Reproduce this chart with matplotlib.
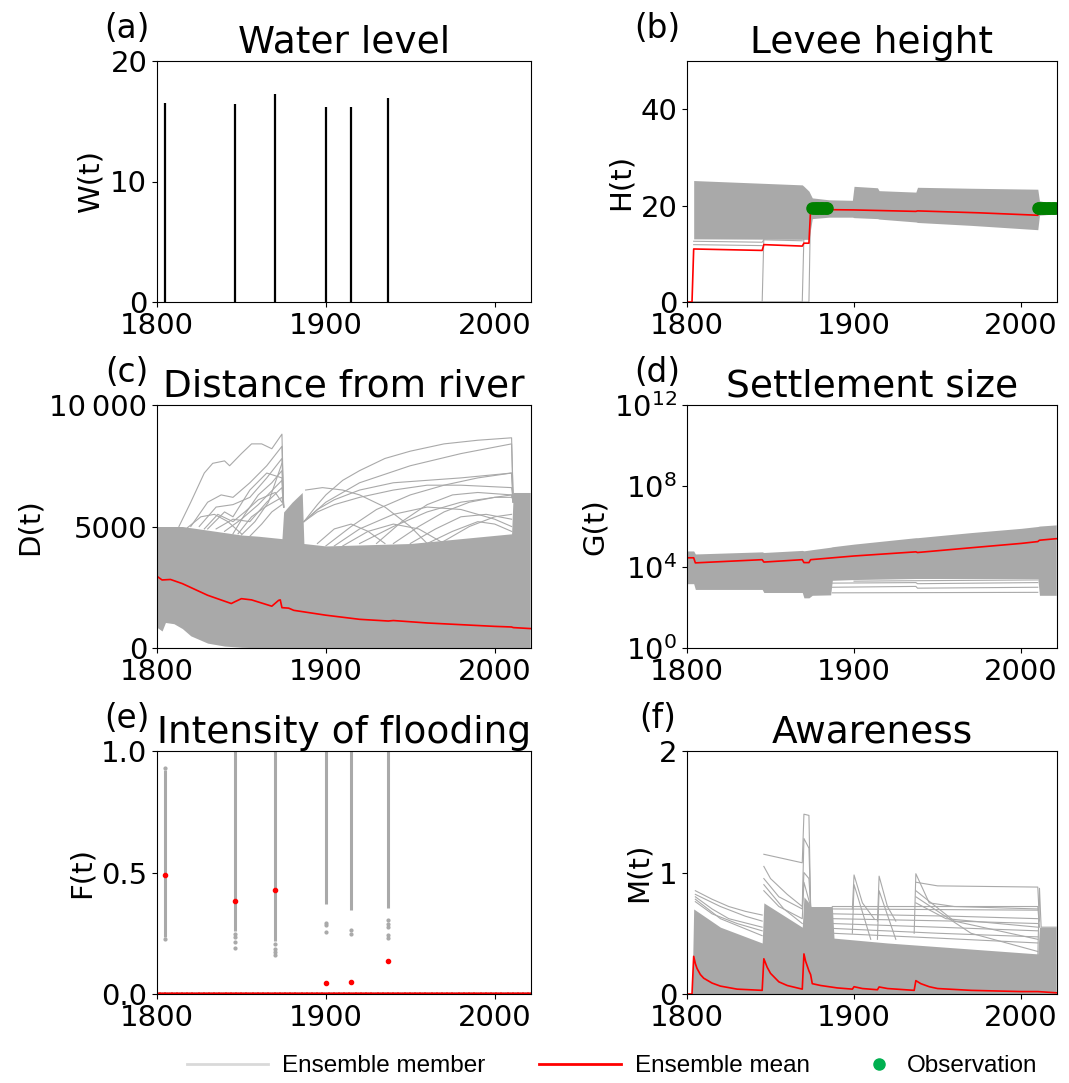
import numpy as np
import matplotlib.pyplot as plt
from matplotlib.lines import Line2D

# ---------------- data ----------------
years_all = np.arange(1800, 2022)

# (a) water level peaks
flood_years = [1805, 1846, 1870, 1900, 1915, 1937]
water_level = [16.5, 16.4, 17.3, 16.2, 16.2, 16.9]

# (b) levee height
levee_band_years = [1804, 1869, 1870, 1873, 1875, 1885, 1899, 1900, 1914, 1915, 1937, 1938, 1970, 2010, 2011, 2021]
levee_band_hi = [25.2, 24.3, 24.0, 23.0, 21.6, 21.2, 21.1, 24.0, 23.7, 23.1, 22.8, 23.8, 23.6, 23.4, 21.0, 20.3]
levee_band_lo = [13.1, 13.0, 13.0, 13.0, 17.3, 17.6, 17.6, 17.5, 17.3, 17.2, 16.6, 16.5, 15.9, 15.0, 18.0, 18.3]
levee_members = [
    ([1800, 1845, 1846, 1869, 1870, 1875], [0, 0, 13.4, 13.2, 22.0, 21.0]),
    ([1800, 1869, 1870, 1873, 1874, 1880], [0, 0, 13.8, 13.7, 20.5, 20.2]),
    ([1800, 1873, 1874, 1885], [0, 0, 20.0, 19.8]),
    ([1804, 1845, 1846, 1869], [12.6, 12.4, 12.9, 12.7]),
    ([1804, 1845], [11.9, 11.7]),
]
levee_mean_years = [1800, 1803, 1804, 1845, 1846, 1869, 1870, 1873, 1874, 1900, 1937, 1938, 1975, 2010, 2011, 2021]
levee_mean = [0, 0, 11.0, 10.7, 11.9, 11.6, 12.2, 12.2, 19.2, 19.1, 18.8, 18.9, 18.5, 18.0, 19.0, 19.4]
obs_years = [1875, 1876, 1877, 1878, 1879, 1880, 1881, 1882, 1883, 1884,
             2010, 2011, 2012, 2013, 2014, 2015, 2016, 2017, 2018, 2019, 2020, 2021]
obs_levee = [19.6] * 22

# (c) distance from river
dist_band_years = [1800, 1803, 1805, 1810, 1815, 1820, 1830, 1840, 1850, 1860, 1874, 1875, 1880, 1886, 1887, 1900, 1950, 2010, 2011, 2021]
dist_band_hi = [5000, 5000, 5000, 5000, 5000, 4950, 4850, 4750, 4650, 4600, 4500, 5600, 6000, 6400, 4300, 4200, 4300, 4700, 6400, 6400]
dist_band_lo = [850, 700, 1050, 1000, 800, 500, 200, 80, 30, 10, 0, 0, 0, 0, 0, 0, 0, 0, 0, 0]
dist_members = [
    ([1813, 1820, 1828, 1833, 1840, 1843, 1850, 1856, 1862, 1868, 1874, 1875], [5000, 6000, 7200, 7600, 7700, 7500, 8000, 8400, 8400, 8200, 8800, 5800]),
    ([1820, 1830, 1838, 1845, 1855, 1865, 1874, 1875], [5000, 6000, 6300, 6200, 6800, 7500, 8300, 5800]),
    ([1825, 1835, 1845, 1855, 1865, 1874, 1875], [5000, 5800, 5900, 6200, 7000, 7800, 5800]),
    ([1830, 1840, 1845, 1855, 1865, 1874, 1875], [4900, 5600, 5400, 6500, 7200, 7000, 5800]),
    ([1845, 1852, 1860, 1868, 1874, 1875], [4700, 5500, 6300, 6800, 7300, 5800]),
    ([1835, 1845, 1855, 1865, 1874, 1875], [4900, 5300, 5200, 6000, 6600, 5800]),
    ([1848, 1856, 1864, 1874, 1875], [4700, 5400, 5800, 6200, 5800]),
    ([1840, 1850, 1860, 1874, 1875], [4800, 5300, 5900, 6900, 5800]),
    ([1828, 1836, 1845, 1852, 1860, 1870, 1874], [4900, 5500, 5200, 5600, 6100, 6400, 6000]),
    ([1850, 1858, 1866, 1874], [4650, 5200, 6000, 7600]),
    ([1855, 1862, 1868, 1874], [4600, 5100, 5600, 5900]),
    ([1818, 1826, 1834, 1842, 1850], [4950, 5400, 5500, 5200, 4700]),
    ([1887, 1895, 1900, 1910, 1920, 1935, 1950, 1970, 1990, 2010, 2011], [5200, 5900, 6300, 6900, 7300, 7800, 8100, 8400, 8550, 8650, 6000]),
    ([1887, 1900, 1920, 1950, 1980, 2010, 2011], [5200, 6000, 6800, 7500, 8000, 8400, 6000]),
    ([1887, 1895, 1905, 1920, 1940, 1960, 1980, 2010, 2011], [5200, 5700, 6100, 6500, 6800, 6900, 7000, 7200, 6000]),
    ([1887, 1895, 1905, 1920, 1940, 1960, 1980, 2010, 2011], [5200, 5600, 5900, 6200, 6500, 6700, 6700, 6600, 6000]),
    ([1888, 1898, 1910, 1920, 1935, 1950, 1960], [6500, 6600, 6500, 6300, 5800, 5000, 4300]),
    ([1900, 1915, 1930, 1950, 1970, 1990, 2010, 2011], [4200, 5000, 5700, 6300, 6700, 7000, 7200, 6000]),
    ([1905, 1920, 1940, 1960, 1980, 2000, 2010], [4200, 4900, 5500, 5800, 5700, 5300, 5000]),
    ([1920, 1940, 1960, 1980, 2000, 2010, 2011], [4300, 5000, 5600, 6000, 6200, 6300, 6000]),
    ([1930, 1945, 1960, 1975, 1990, 2010, 2011], [4300, 5200, 5900, 6300, 6400, 6300, 6000]),
    ([1940, 1955, 1970, 1985, 2000, 2010], [4300, 5000, 5600, 6000, 6200, 6200]),
    ([1950, 1965, 1980, 1995, 2010], [4300, 4900, 5400, 5500, 5300]),
    ([1960, 1975, 1990, 2000, 2010], [4300, 4800, 5200, 5100, 4800]),
    ([1910, 1925, 1940, 1955, 1970], [4200, 4800, 5100, 4900, 4300]),
    ([1970, 1985, 2000, 2010], [4400, 5000, 5400, 5500]),
    ([1895, 1905, 1915, 1925, 1935], [4300, 4900, 5100, 4800, 4300]),
]
dist_mean_years = [1800, 1803, 1808, 1815, 1830, 1844, 1846, 1850, 1856, 1868, 1872, 1873, 1874, 1878, 1881, 1900, 1920, 1937, 1940, 1960, 1980, 2000, 2010, 2011, 2021]
dist_mean = [2950, 2800, 2820, 2650, 2170, 1830, 1900, 2030, 1980, 1720, 1960, 1980, 1660, 1640, 1550, 1350, 1180, 1110, 1130, 1030, 960, 890, 865, 840, 800]

# (d) settlement size
size_band_years = [1800, 1804, 1805, 1845, 1846, 1869, 1870, 1873, 1875, 1886, 1887, 1900, 1937, 1938, 1970, 2000, 2010, 2011, 2021]
size_band_hi = [6.2e4, 6.2e4, 4.4e4, 5.6e4, 5.2e4, 6.6e4, 6.3e4, 6.8e4, 7.2e4, 9.5e4, 1.0e5, 1.35e5, 2.8e5, 2.8e5, 5.0e5, 8.1e5, 1.0e6, 1.05e6, 1.2e6]
size_band_lo = [1500, 1500, 780, 780, 550, 550, 300, 300, 400, 420, 2200, 2400, 2700, 2700, 2700, 2700, 2700, 400, 400]
size_members = [
    ([1887, 2010], [530, 560]),
    ([1887, 1937, 1938, 2010], [1000, 1100, 900, 1000]),
    ([1887, 1937, 1938, 2010], [1600, 1700, 1500, 1700]),
    ([1900, 1937, 2010], [2000, 2100, 2300]),
]
size_mean_years = [1800, 1804, 1805, 1845, 1846, 1869, 1870, 1873, 1874, 1900, 1937, 1938, 1970, 2000, 2010, 2011, 2021]
size_mean = [2.85e4, 2.85e4, 1.6e4, 2.3e4, 1.75e4, 2.3e4, 1.65e4, 1.65e4, 2.3e4, 3.5e4, 5.6e4, 5.2e4, 8.9e4, 1.46e5, 1.8e5, 2.1e5, 2.5e5]

# (e) intensity of flooding at flood years
flood_f_lo = [0.235, 0.26, 0.22, 0.37, 0.345, 0.352]
flood_f_hi = [0.92, 1.0, 1.0, 1.0, 1.0, 1.0]
flood_f_outliers = [
    [0.228, 0.93],
    [0.248, 0.234, 0.214, 0.189],
    [0.207, 0.186, 0.172, 0.159],
    [0.294, 0.283, 0.255],
    [0.262, 0.248],
    [0.303, 0.29, 0.276, 0.241, 0.232],
]
flood_f_mean = [0.488, 0.381, 0.426, 0.046, 0.05, 0.134]

# (f) awareness
aware_band_years = [1800, 1803, 1804, 1820, 1845, 1846, 1869, 1870, 1873, 1874, 1887, 1888, 1920, 1960, 2010, 2011, 2021]
aware_band_hi = [0, 0, 0.70, 0.55, 0.42, 0.75, 0.55, 0.80, 0.75, 0.72, 0.72, 0.46, 0.42, 0.38, 0.33, 0.55, 0.55]
aware_band_lo = [0] * 17
aware_members = [
    ([1805, 1815, 1825, 1835, 1845], [0.85, 0.78, 0.72, 0.68, 0.65]),
    ([1805, 1815, 1825, 1845], [0.80, 0.70, 0.62, 0.55]),
    ([1805, 1820, 1845], [0.78, 0.62, 0.48]),
    ([1805, 1815, 1830, 1845], [0.76, 0.66, 0.58, 0.52]),
    ([1805, 1820, 1835, 1845], [0.82, 0.72, 0.64, 0.60]),
    ([1846, 1869, 1870, 1873, 1874], [1.15, 1.08, 1.48, 1.47, 0.72]),
    ([1846, 1850, 1860, 1869, 1870, 1873, 1874], [1.05, 0.95, 0.82, 0.72, 1.28, 1.20, 0.72]),
    ([1846, 1855, 1869, 1870, 1873, 1874], [0.95, 0.80, 0.70, 1.0, 0.95, 0.72]),
    ([1846, 1855, 1869, 1870, 1874], [0.85, 0.72, 0.62, 0.92, 0.72]),
    ([1846, 1858, 1869], [0.90, 0.70, 0.58]),
    ([1887, 2010, 2011], [0.72, 0.72, 0.55]),
    ([1887, 2010], [0.70, 0.69]),
    ([1887, 1960, 2010], [0.66, 0.64, 0.62]),
    ([1887, 1960, 2010], [0.62, 0.60, 0.58]),
    ([1887, 1950, 2010], [0.58, 0.55, 0.52]),
    ([1887, 1950, 2010], [0.54, 0.50, 0.47]),
    ([1887, 1950, 2010], [0.50, 0.46, 0.42]),
    ([1899, 1900, 1905, 1912], [0.70, 0.98, 0.75, 0.62]),
    ([1899, 1900, 1910], [0.50, 0.90, 0.45]),
    ([1914, 1915, 1920, 1925], [0.60, 0.97, 0.72, 0.60]),
    ([1914, 1915, 1925], [0.45, 0.85, 0.45]),
    ([1936, 1937, 1945, 1960, 2010], [0.50, 0.99, 0.75, 0.72, 0.70]),
    ([1937, 1950, 2010, 2011], [0.92, 0.89, 0.88, 0.60]),
    ([1937, 1960, 2010], [0.85, 0.60, 0.45]),
    ([1937, 1970, 2010], [0.80, 0.50, 0.35]),
    ([1937, 1955, 2010], [0.75, 0.62, 0.55]),
    ([2010, 2011, 2012, 2021], [0.30, 0.87, 0.55, 0.55]),
]
aware_mean_years = [1800, 1803, 1804, 1805, 1806, 1808, 1810, 1815, 1820, 1830, 1845, 1846, 1848, 1850, 1855, 1860, 1869, 1870, 1871, 1872, 1873, 1874, 1875, 1880, 1890, 1899, 1900, 1905, 1914, 1915, 1920, 1936, 1937, 1940, 1945, 1950, 1970, 2000, 2010, 2021]
aware_mean = [0, 0, 0.31, 0.25, 0.21, 0.16, 0.13, 0.09, 0.065, 0.04, 0.03, 0.29, 0.22, 0.17, 0.10, 0.07, 0.04, 0.33, 0.27, 0.23, 0.19, 0.16, 0.085, 0.07, 0.05, 0.04, 0.06, 0.045, 0.035, 0.058, 0.045, 0.03, 0.11, 0.085, 0.06, 0.045, 0.03, 0.02, 0.02, 0.01]

# ---------------- drawing ----------------
GREY = '#a9a9a9'
W, H = 1069, 1083

fig = plt.figure(figsize=(W / 100, H / 100), dpi=100)


def px_axes(left, top, right, bottom):
    return fig.add_axes([left / W, 1 - bottom / H, (right - left) / W, (bottom - top) / H])


def setup(ax, letter, title, ylabel):
    ax.set_title(title, fontsize=27)
    ax.set_ylabel(ylabel, fontsize=21)
    ax.text(-0.08, 1.135, letter, transform=ax.transAxes, fontsize=23.5,
            ha='center', va='center')
    ax.set_xlim(1800, 2021.5)
    ax.set_xticks([1800, 1900, 2000])
    ax.tick_params(labelsize=21)


def draw_ensemble(ax, by, lo, hi, members, my, mean):
    ax.fill_between(by, lo, hi, color=GREY, lw=0)
    for xs, ys in members:
        ax.plot(xs, ys, color=GREY, lw=0.8)
    ax.plot(my, mean, color='red', lw=1.2)


ax_a = px_axes(157, 61, 531, 302)
ax_b = px_axes(687, 61, 1057, 302)
ax_c = px_axes(157, 405, 531, 648)
ax_d = px_axes(687, 405, 1057, 648)
ax_e = px_axes(157, 751, 531, 994)
ax_f = px_axes(687, 751, 1057, 994)

# (a)
ax_a.vlines(flood_years, 0, water_level, color='black', lw=1.6)
ax_a.set_ylim(0, 20)
ax_a.set_yticks([0, 10, 20])
setup(ax_a, '(a)', 'Water level', 'W(t)')

# (b)
draw_ensemble(ax_b, levee_band_years, levee_band_lo, levee_band_hi, levee_members,
              levee_mean_years, levee_mean)
ax_b.plot(obs_years, obs_levee, 'o', color='green', ms=8)
ax_b.set_ylim(0, 50)
ax_b.set_yticks([0, 20, 40])
setup(ax_b, '(b)', 'Levee height', 'H(t)')

# (c)
draw_ensemble(ax_c, dist_band_years, dist_band_lo, dist_band_hi, dist_members,
              dist_mean_years, dist_mean)
ax_c.set_ylim(0, 10000)
ax_c.set_yticks([0, 5000, 10000], ['0', '5000', '10\u2009000'])
setup(ax_c, '(c)', 'Distance from river', 'D(t)')

# (d)
draw_ensemble(ax_d, size_band_years, size_band_lo, size_band_hi, size_members,
              size_mean_years, size_mean)
ax_d.set_yscale('log')
ax_d.set_ylim(1, 1e12)
ax_d.set_yticks([1, 1e4, 1e8, 1e12], ['$10^{0}$', '$10^{4}$', '$10^{8}$', '$10^{12}$'])
ax_d.yaxis.set_minor_locator(plt.NullLocator())
setup(ax_d, '(d)', 'Settlement size', 'G(t)')

# (e)
ax_e.plot(years_all, np.zeros(len(years_all)), 'o', color=GREY, ms=2)
ax_e.vlines(flood_years, flood_f_lo, flood_f_hi, color=GREY, lw=2.2)
for yr, pts in zip(flood_years, flood_f_outliers):
    ax_e.plot([yr] * len(pts), pts, 'o', color=GREY, ms=2)
ax_e.plot(years_all, np.zeros(len(years_all)), 'o', color='red', ms=2)
ax_e.plot(flood_years, flood_f_mean, 'o', color='red', ms=3)
ax_e.set_ylim(0, 1)
ax_e.set_yticks([0, 0.5, 1.0], ['0.0', '0.5', '1.0'])
setup(ax_e, '(e)', 'Intensity of flooding', 'F(t)')

# (f)
draw_ensemble(ax_f, aware_band_years, aware_band_lo, aware_band_hi, aware_members,
              aware_mean_years, aware_mean)
ax_f.set_ylim(0, 2)
ax_f.set_yticks([0, 1, 2])
setup(ax_f, '(f)', 'Awareness', 'M(t)')

# legend along the bottom
leg_font = {'family': ['Liberation Sans', 'DejaVu Sans'], 'size': 17.5}
member_h = Line2D([], [], color='#d9d9d9', lw=2)
mean_h = Line2D([], [], color='red', lw=2)
obs_h = Line2D([], [], marker='o', ls='none', color='#00b050', ms=8)
fig.legend([member_h, mean_h], ['Ensemble member', 'Ensemble mean'], ncol=2,
           loc='center left', bbox_to_anchor=(165 / W, 1 - 1066 / H), frameon=False,
           prop=leg_font, handlelength=3.35, handletextpad=0.58, columnspacing=2.2)
fig.legend([obs_h], ['Observation'], loc='center left',
           bbox_to_anchor=(843 / W, 1 - 1066 / H), frameon=False,
           prop=leg_font, handlelength=1.16, handletextpad=0.58)

fig.savefig('out.png', dpi=100)
